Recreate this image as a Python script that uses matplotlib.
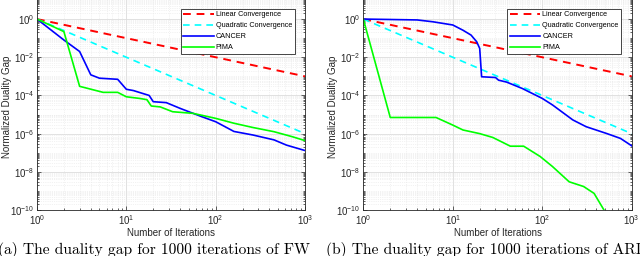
import numpy as np
import matplotlib
matplotlib.use("Agg")
from matplotlib import pyplot as plt
from matplotlib.ticker import LogLocator, NullFormatter

plt.rcParams['font.family'] = ['Liberation Sans', 'DejaVu Sans']
plt.rcParams['mathtext.default'] = 'regular'

# reference rates (end points of straight lines on log-log axes)
rate_x = [1, 1000]
linear_y = [1.0, 1e-3]
quadratic_y = [1.0, 1e-6]

# (a) FW
fw_cancer_x = [1, 2, 3, 4, 5, 8, 10, 12, 15, 18, 20, 28, 40, 70, 100, 160, 260, 450, 620, 1000]
fw_cancer_y = [1.0, 0.08, 0.02, 1.2e-3, 8e-4, 7e-4, 2.1e-4, 1.8e-4, 1.3e-4, 1.0e-4, 4.7e-5, 4.2e-5,
               2.1e-5, 7.7e-6, 4.2e-6, 1.3e-6, 8.5e-7, 4.7e-7, 2.5e-7, 1.3e-7]
fw_pima_x = [1, 2, 3, 5.5, 8, 10, 14, 17, 19, 24, 33, 56, 100, 160, 260, 450, 720, 1000]
fw_pima_y = [1.0, 0.22, 3e-4, 1.45e-4, 1.45e-4, 8.5e-5, 7e-5, 6e-5, 2.8e-5, 2.5e-5, 1.4e-5,
             1.15e-5, 6.3e-6, 3.5e-6, 2.1e-6, 1.26e-6, 6.9e-7, 4.3e-7]

# (b) ARD
ard_cancer_x = [1, 4, 6, 10, 13, 16, 18.5, 20, 21, 30, 32.5, 40, 60, 100, 130, 220, 310, 530, 750, 1000]
ard_cancer_y = [1.0, 0.9, 0.72, 0.49, 0.26, 0.145, 0.065, 0.029, 9.5e-4, 8.7e-4, 6.3e-4, 5e-4,
                2.3e-4, 7e-5, 3.2e-5, 5.2e-6, 2.3e-6, 1e-6, 5.6e-7, 2.3e-7]
ard_pima_x = [1, 2, 6.5, 10, 13, 20, 28, 44, 62, 95, 130, 200, 290, 380, 490, 560]
ard_pima_y = [1.0, 7e-6, 7e-6, 2.8e-6, 1.55e-6, 1e-6, 6.3e-7, 2.2e-7, 2.2e-7, 6.3e-8, 1.9e-8,
              3e-9, 1.7e-9, 7.4e-10, 1e-10, 3e-11]

captions = ['(a) The duality gap for 1000 iterations of FW',
            '(b) The duality gap for 1000 iterations of ARD']


def style_axes(ax):
    ax.set_xscale('log')
    ax.set_yscale('log')
    ax.set_xlim(1, 1000)
    ax.set_ylim(1e-10, 1e2)
    ax.yaxis.set_major_locator(LogLocator(base=100.0, numticks=10))
    ax.yaxis.set_minor_locator(LogLocator(base=10.0, subs=np.arange(1, 10), numticks=30))
    ax.yaxis.set_minor_formatter(NullFormatter())
    ax.xaxis.set_minor_locator(LogLocator(base=10.0, subs=np.arange(2, 10), numticks=30))
    ax.xaxis.set_minor_formatter(NullFormatter())
    ax.tick_params(which='both', direction='in', top=True, right=True, labelsize=7,
                   colors='#262626', width=0.5)
    ax.tick_params(which='major', length=3, pad=2)
    ax.tick_params(which='minor', length=1.5)
    ax.grid(True, which='major', color='#dcdcdc', lw=0.6)
    ax.grid(True, which='minor', color='#e6e6e6', lw=0.5, ls=':')
    ax.set_axisbelow(True)
    for s in ax.spines.values():
        s.set_color('#262626')
        s.set_linewidth(0.6)
    ax.set_xlabel('Number of Iterations', fontsize=7, color='#262626', labelpad=1)
    ax.set_ylabel('Normalized Duality Gap', fontsize=7, color='#262626')
    ax.yaxis.set_label_coords(-0.095, 0.45)


fig = plt.figure(figsize=(6.4, 2.56), dpi=100)
ax1 = fig.add_axes([0.0578, 0.1797, 0.4188, 0.895])
ax2 = fig.add_axes([0.5677, 0.1797, 0.4193, 0.895])

panels = [(ax1, fw_cancer_x, fw_cancer_y, fw_pima_x, fw_pima_y),
          (ax2, ard_cancer_x, ard_cancer_y, ard_pima_x, ard_pima_y)]

for ax, cx, cy, px, py in panels:
    ax.plot(rate_x, linear_y, color='#ff0000', ls=(0, (4, 3)), lw=1.4, label='Linear Convergence')
    ax.plot(rate_x, quadratic_y, color='#00ffff', ls=(0, (4, 3)), lw=1.2, label='Quadratic Convergence')
    ax.plot(cx, cy, color='#0000ff', lw=1.2, label='CANCER')
    ax.plot(px, py, color='#00ff00', lw=1.2, label='PIMA')
    style_axes(ax)
    leg = ax.legend(loc='upper right', bbox_to_anchor=(0.975, 0.894), fontsize=5.2,
                    handlelength=4.2, labelspacing=0.55, borderpad=0.35, handletextpad=0.3,
                    fancybox=False, framealpha=1, edgecolor='#262626')
    leg.get_frame().set_linewidth(0.6)

fig.text(-0.003, 0.008, captions[0], fontsize=11.2, family='cmr10', ha='left', va='baseline')
fig.text(0.510, 0.008, captions[1], fontsize=11.2, family='cmr10', ha='left', va='baseline')

fig.savefig('out.png', dpi=100)
